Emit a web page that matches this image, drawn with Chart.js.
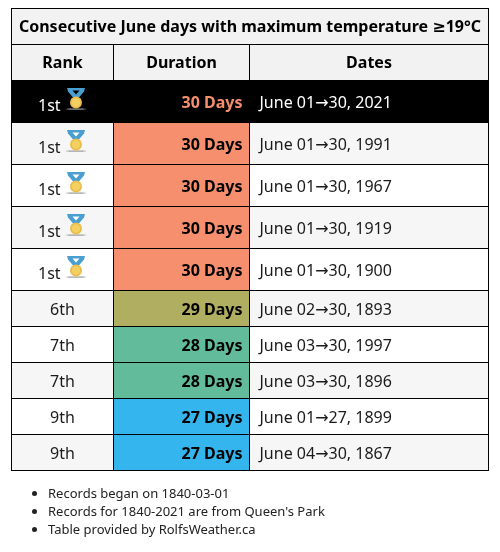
<!DOCTYPE html>
<html><head><meta charset="utf-8">
<script src="https://cdn.jsdelivr.net/npm/chart.js@4"></script>
<style>
html,body{margin:0;padding:0;background:#fff}
#wrap{position:relative;width:500px;height:552px;overflow:hidden}
canvas{position:absolute;left:0;top:0}
ul{position:absolute;left:48px;top:484px;margin:0;padding:0;font:13px/18.2px "Noto Sans",sans-serif;color:#222;width:440px}
</style></head><body>
<div id="wrap"><canvas id="c" width="500" height="552"></canvas>
<ul><li>Records began on 1840-03-01</li><li>Records for 1840-2021 are from Queen's Park</li><li>Table provided by RolfsWeather.ca</li></ul></div>
<script>
// ---- data ----
const titleText = "Consecutive June days with maximum temperature ≥19°C";
const headers = ["Rank", "Duration", "Dates"];
const ranks = ["1st","1st","1st","1st","1st","6th","7th","7th","9th","9th"];
const medals = [true,true,true,true,true,false,false,false,false,false];
const durations = [30,30,30,30,30,29,28,28,27,27];
const dates = ["June 01→30, 2021","June 01→30, 1991","June 01→30, 1967","June 01→30, 1919","June 01→30, 1900","June 02→30, 1893","June 03→30, 1997","June 03→30, 1896","June 01→27, 1899","June 04→30, 1867"];
// ---- layout and style ----
const colEdges = [11.5,113.5,249.5,488.5];
const rowEdges = [8.5,44.5,80.5,122.5,164.5,206.5,248.5,290.5,326.5,362.5,398.5,434.5,470.5];
const durationColors = {30:"#f68f6e",29:"#b0ae61",28:"#62bb9b",27:"#34b5ee"};
const headBg = "#f2f2f2", oddBg = "#f6f6f6", evenBg = "#ffffff", ink = "#1a1a1a";
const FONT = '"Noto Sans","DejaVu Sans"';
const isHighlight = i => i === 0;
const rowBg = i => isHighlight(i) ? "#000000" : (i % 2 === 1 ? oddBg : evenBg);

function columnData(c){
  const cx=(colEdges[c]+colEdges[c+1])/2;
  const out=[{x:cx,y:[rowEdges[1],rowEdges[2]]}];
  ranks.forEach((_,i)=>out.push({x:cx,y:[rowEdges[i+2],rowEdges[i+3]]}));
  return out;
}
function columnColors(c){
  const out=[headBg];
  ranks.forEach((_,i)=>out.push(isHighlight(i)?"#000000":(c===1?durationColors[durations[i]]:rowBg(i))));
  return out;
}
const datasets=[{label:"Title",data:[{x:(colEdges[0]+colEdges[3])/2,y:[rowEdges[0],rowEdges[1]]}],backgroundColor:headBg,barThickness:colEdges[3]-colEdges[0],grouped:false,borderWidth:0}];
headers.forEach((h,c)=>datasets.push({label:h,data:columnData(c),backgroundColor:columnColors(c),barThickness:colEdges[c+1]-colEdges[c],grouped:false,borderWidth:0}));

function drawMedal(ctx,cx,by,dark){
  ctx.save();
  const g=ctx.createLinearGradient(cx-11,0,cx+11,0);
  g.addColorStop(0,"rgba(150,150,150,0)");g.addColorStop(.2,"#9a9a9a");g.addColorStop(.8,"#9a9a9a");g.addColorStop(1,"rgba(150,150,150,0)");
  ctx.fillStyle=g;ctx.fillRect(cx-11,by-.5,22,1.2);
  ctx.fillStyle="#4a9fd0";
  ctx.beginPath();ctx.moveTo(cx-9,by-21);ctx.lineTo(cx+9,by-21);ctx.lineTo(cx+8,by-17.5);ctx.lineTo(cx+2.5,by-11);ctx.lineTo(cx-2.5,by-11);ctx.lineTo(cx-8,by-17.5);ctx.closePath();ctx.fill();
  ctx.fillStyle=dark?"#000":"#ffffff";
  ctx.beginPath();ctx.moveTo(cx-3.5,by-18.5);ctx.lineTo(cx+3.5,by-18.5);ctx.lineTo(cx,by-14.5);ctx.closePath();ctx.fill();
  ctx.fillStyle="#e9bd4e";ctx.beginPath();ctx.arc(cx,by-6.5,6,0,Math.PI*2);ctx.fill();
  ctx.fillStyle="#f4d061";ctx.beginPath();ctx.arc(cx,by-6.5,4.2,0,Math.PI*2);ctx.fill();
  ctx.restore();
}

const tablePlugin={id:"table",afterDatasetsDraw(chart){
  const {ctx,scales:{x,y}}=chart;
  ctx.save();
  ctx.strokeStyle="#000";ctx.lineWidth=1;
  const hline=(v)=>{ctx.beginPath();ctx.moveTo(x.getPixelForValue(colEdges[0])-.5,y.getPixelForValue(v));ctx.lineTo(x.getPixelForValue(colEdges[3])+.5,y.getPixelForValue(v));ctx.stroke();};
  rowEdges.forEach(hline);
  colEdges.forEach((e,c)=>{
    const top=(c===0||c===3)?rowEdges[0]:rowEdges[1];
    ctx.beginPath();ctx.moveTo(x.getPixelForValue(e),y.getPixelForValue(top));ctx.lineTo(x.getPixelForValue(e),y.getPixelForValue(rowEdges[rowEdges.length-1]));ctx.stroke();
  });
  ctx.textBaseline="alphabetic";
  const mid=(a,b)=>(a+b)/2;
  const px=v=>x.getPixelForValue(v), py=v=>y.getPixelForValue(v);
  ctx.fillStyle="#000";ctx.textAlign="center";ctx.font=`bold 16px ${FONT}`;
  ctx.fillText(titleText,px(mid(colEdges[0],colEdges[3])),py(rowEdges[0])+23.5);
  headers.forEach((h,c)=>ctx.fillText(h,px(mid(colEdges[c],colEdges[c+1])),py(rowEdges[1])+23.5));
  ranks.forEach((r,i)=>{
    const top=py(rowEdges[i+2]), bot=py(rowEdges[i+3]);
    const base=top+(medals[i]?27:24.5);
    const dark=isHighlight(i);
    ctx.font=`16px ${FONT}`;
    ctx.fillStyle=dark?"#fff":ink;
    if(medals[i]){
      ctx.textAlign="left";ctx.fillText(r,px(colEdges[0])+26.5,top+30.5);
      drawMedal(ctx,px(colEdges[0])+64.5,top+28.5,dark);
    } else {
      ctx.textAlign="center";ctx.fillText(r,px(mid(colEdges[0],colEdges[1])),base);
    }
    ctx.font=`bold 16px ${FONT}`;ctx.textAlign="right";
    ctx.fillStyle=dark?durationColors[30]:"#000";
    ctx.fillText(durations[i]+" Days",px(colEdges[2])-7,base);
    ctx.font=`16px ${FONT}`;ctx.textAlign="left";
    ctx.fillStyle=dark?"#fff":ink;
    ctx.fillText(dates[i],px(colEdges[2])+10,base);
  });
  ctx.restore();
}};

new Chart(document.getElementById("c"),{
  type:"bar",
  data:{datasets},
  plugins:[tablePlugin],
  options:{
    responsive:false,animation:false,devicePixelRatio:1,
    layout:{padding:0},
    plugins:{legend:{display:false},tooltip:{enabled:false},title:{display:false}},
    scales:{
      x:{type:"linear",min:0,max:500,display:false,offset:false},
      y:{type:"linear",min:0,max:552,reverse:true,display:false}
    }
  }
});
</script></body></html>
